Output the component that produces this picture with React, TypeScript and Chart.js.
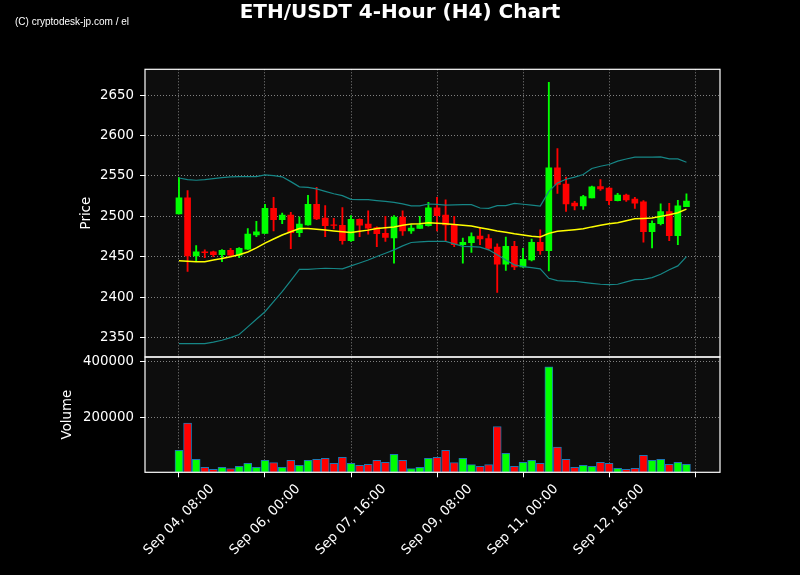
import React, { useEffect, useRef } from 'react';
import { Chart, registerables } from 'chart.js';

Chart.register(...registerables);

const TITLE = 'ETH/USDT 4-Hour (H4) Chart';
const WATERMARK = '(C) cryptodesk-jp.com / el';
const PRICE_LABEL = 'Price';
const VOLUME_LABEL = 'Volume';

const xTickValues = [0, 10, 20, 30, 40, 50, 60];
const xTickLabels = ['Sep 04, 08:00', 'Sep 06, 00:00', 'Sep 07, 16:00', 'Sep 09, 08:00', 'Sep 11, 00:00', 'Sep 12, 16:00', ''];
const priceTicks = [2350, 2400, 2450, 2500, 2550, 2600, 2650];
const volumeTicks = [200000, 400000];

const opens = [
  2503, 2523, 2451, 2456, 2456, 2452.5, 2458, 2452, 2459.5, 2477,
  2479, 2510, 2496, 2501.5, 2480, 2489.5, 2515, 2498, 2489.5, 2489,
  2470, 2496.5, 2490.5, 2486, 2479, 2473.5, 2499, 2482, 2485, 2488.5,
  2510.5, 2501.5, 2489.5, 2465, 2467.5, 2475.5, 2472.5, 2462, 2441, 2463,
  2437.5, 2446, 2468, 2457.5, 2560, 2540, 2516.5, 2513, 2523, 2537,
  2535, 2519.5, 2526.5, 2521.5, 2518, 2481, 2491, 2506, 2476, 2512,
];
const highs = [
  2548, 2532, 2464, 2458.5, 2457, 2459, 2460.5, 2461.5, 2485, 2494,
  2515, 2523.5, 2504, 2505, 2499.5, 2526, 2536, 2513.5, 2497.5, 2511,
  2501, 2497, 2507, 2487, 2500, 2501, 2507, 2489.5, 2500, 2517.5,
  2523.5, 2520.5, 2500, 2473, 2479.5, 2485.5, 2477.5, 2466, 2474.5, 2469,
  2460.5, 2472, 2483.5, 2666, 2584, 2548.5, 2518.5, 2526, 2537.5, 2545.5,
  2535.5, 2528.5, 2527.5, 2523.5, 2519.5, 2494.5, 2515.5, 2516, 2520, 2528,
];
const lows = [
  2503, 2432, 2444, 2449, 2450, 2444, 2451, 2449, 2459, 2475,
  2479, 2482, 2491, 2460, 2475, 2489, 2496, 2475, 2484.5, 2465.5,
  2469, 2475, 2478, 2462.5, 2469, 2442, 2476.5, 2479, 2485, 2488,
  2482, 2470, 2462.5, 2442, 2455.5, 2465, 2458.5, 2406, 2433, 2434,
  2437, 2445, 2453, 2432.5, 2528.5, 2506, 2508, 2508.5, 2523, 2532,
  2514.5, 2519, 2518.5, 2510, 2468, 2461, 2489.5, 2470, 2465, 2512,
];
const closes = [
  2523, 2451, 2456, 2455, 2452.5, 2458, 2452, 2460.5, 2478, 2481,
  2510, 2496, 2501.5, 2480, 2490.5, 2515, 2497, 2488.5, 2488.8, 2470,
  2496.5, 2489, 2485.5, 2478.5, 2474, 2499, 2482, 2485.5, 2489.5, 2510.5,
  2501, 2489.5, 2465, 2468, 2475, 2472, 2460.5, 2441, 2463, 2437.5,
  2447, 2468, 2457.5, 2560, 2539.5, 2515.5, 2513, 2524.5, 2536.5, 2534,
  2519.5, 2526.5, 2520.5, 2516.5, 2481, 2491.5, 2506, 2476, 2513, 2519,
];
const volumes = [
  80000, 178000, 47300, 18200, 10900, 18200, 13300, 21800, 32700, 18200,
  43600, 35100, 18200, 43600, 25500, 43600, 47300, 50900, 32700, 54500,
  32700, 25500, 29100, 43600, 36400, 65500, 43600, 13300, 18200, 50900,
  54500, 80000, 35100, 50900, 27900, 21800, 27900, 166000, 69100, 21800,
  36400, 43600, 32700, 381800, 90900, 47300, 18200, 25500, 21800, 36400,
  32700, 14500, 10900, 14500, 61800, 43600, 47300, 29100, 36400, 29100,
];
const sma = [
  2445, 2444.5, 2444, 2444, 2446, 2448, 2450, 2452.5, 2456, 2461,
  2467, 2472, 2477, 2481, 2485, 2485, 2484, 2483, 2482, 2481,
  2480, 2481.5, 2483, 2485, 2486, 2487, 2489, 2490.5, 2491, 2492,
  2491.5, 2491, 2490, 2489, 2488, 2486, 2484, 2482, 2480.5, 2478.5,
  2477, 2475.5, 2474.5, 2479, 2481.5, 2482.5, 2483.5, 2484.7, 2487, 2489,
  2491, 2492, 2494.5, 2497, 2497.5, 2498, 2500, 2502, 2504.5, 2509,
];
const upperBand = [
  2547.5, 2545.5, 2544.7, 2545.5, 2546.8, 2548, 2549, 2549.3, 2549.3, 2549.3,
  2551.4, 2550.5, 2549, 2543, 2536.5, 2536, 2534, 2531, 2528, 2525.7,
  2521, 2520.8, 2520.7, 2519.5, 2518.5, 2517.4, 2515.5, 2513, 2513, 2515.3,
  2514.8, 2514, 2514.2, 2514.5, 2514.5, 2510.4, 2510, 2513.3, 2513.3, 2516,
  2515, 2514, 2512.8, 2531, 2541.4, 2546, 2548.5, 2551.8, 2559.3, 2562,
  2564.2, 2568.3, 2571, 2573.3, 2573.3, 2573.3, 2573.7, 2571.2, 2571.2, 2567,
];
const lowerBand = [
  2342.6, 2342.6, 2342.6, 2342.6, 2344.5, 2346.7, 2350, 2353.8, 2363.3, 2372.8,
  2382, 2394.4, 2406.8, 2420.5, 2434.5, 2434.5, 2435.2, 2435.8, 2435.5, 2435,
  2438.7, 2442.3, 2446, 2450.3, 2454.4, 2458.6, 2463.5, 2467.7, 2468.5, 2469,
  2469, 2469, 2466, 2463, 2462.7, 2462, 2458.6, 2452.4, 2446, 2440,
  2437.9, 2436.6, 2435, 2423.4, 2420.5, 2420, 2419.7, 2418.4, 2417.2, 2416,
  2415.5, 2416, 2419, 2421.7, 2422, 2424.2, 2428.3, 2434, 2438.7, 2450.3,
];

const UP = '#00ff00';
const DOWN = '#ff0000';
const GRID = 'rgba(165,165,165,0.85)';
const FONT = '"DejaVu Sans", sans-serif';

const panelPlugin = {
  id: 'panels',
  beforeDraw(chart: any) {
    const { ctx, width, height, chartArea } = chart;
    ctx.save();
    ctx.fillStyle = '#000';
    ctx.fillRect(0, 0, width, height);
    ctx.fillStyle = '#0d0d0d';
    ctx.fillRect(chartArea.left, chartArea.top, chartArea.right - chartArea.left, chartArea.bottom - chartArea.top);
    ctx.restore();
  },
  afterDraw(chart: any) {
    const { ctx, chartArea, scales } = chart;
    ctx.save();
    ctx.strokeStyle = '#ffffff';
    ctx.lineWidth = 1.2;
    for (const id of ['y', 'yv']) {
      const s = scales[id];
      ctx.strokeRect(chartArea.left, s.top, chartArea.right - chartArea.left, s.bottom - s.top);
    }
    // title
    ctx.fillStyle = '#ffffff';
    ctx.font = 'bold 20px ' + FONT;
    ctx.textAlign = 'center';
    ctx.textBaseline = 'alphabetic';
    ctx.fillText(TITLE, 400, 18);
    // watermark
    ctx.save();
    ctx.font = '11px "Liberation Sans", sans-serif';
    ctx.textAlign = 'left';
    const w = ctx.measureText(WATERMARK).width;
    ctx.translate(15, 25);
    ctx.scale(114 / w, 1);
    ctx.fillText(WATERMARK, 0, 0);
    ctx.restore();
    // x tick labels, rotated 45deg, bbox centered under tick
    const xs = scales.x;
    ctx.font = '13.33px ' + FONT;
    ctx.fillStyle = '#ffffff';
    ctx.textAlign = 'center';
    ctx.textBaseline = 'middle';
    xTickValues.forEach((v, i) => {
      const label = xTickLabels[i];
      if (!label) return;
      const px = xs.getPixelForValue(v);
      const tw = ctx.measureText(label).width;
      const bb = (tw + 15) * Math.SQRT1_2;
      const cy = chartArea.bottom + 9.3 + bb / 2;
      ctx.save();
      ctx.translate(px, cy);
      ctx.rotate(-Math.PI / 4);
      ctx.fillText(label, 0, 0);
      ctx.restore();
    });
    ctx.restore();
  },
};

export default function App() {
  const ref = useRef<HTMLCanvasElement>(null);

  useEffect(() => {
    const canvas = ref.current;
    if (!canvas) return;
    const idx = opens.map((_, i) => i);
    const colors = idx.map((i) => (closes[i] >= opens[i] ? UP : DOWN));

    const chart = new Chart(canvas, {
      type: 'bar',
      data: {
        datasets: [
          {
            type: 'line',
            label: 'SMA',
            data: idx.map((i) => ({ x: i, y: sma[i] })),
            borderColor: '#ffff00',
            borderWidth: 1.5,
            pointRadius: 0,
            tension: 0,
            yAxisID: 'y',
            order: 1,
          } as any,
          {
            type: 'line',
            label: 'Upper',
            data: idx.map((i) => ({ x: i, y: upperBand[i] })),
            borderColor: '#168686',
            borderWidth: 1.2,
            pointRadius: 0,
            tension: 0,
            yAxisID: 'y',
            order: 2,
          } as any,
          {
            type: 'line',
            label: 'Lower',
            data: idx.map((i) => ({ x: i, y: lowerBand[i] })),
            borderColor: '#168686',
            borderWidth: 1.2,
            pointRadius: 0,
            tension: 0,
            yAxisID: 'y',
            order: 2,
          } as any,
          {
            type: 'bar',
            label: 'Body',
            data: idx.map((i) => ({ x: i, y: [opens[i], closes[i]] })),
            backgroundColor: colors,
            barThickness: 6,
            grouped: false,
            yAxisID: 'y',
            order: 3,
          } as any,
          {
            type: 'bar',
            label: 'Wick',
            data: idx.map((i) => ({ x: i, y: [lows[i], highs[i]] })),
            backgroundColor: colors,
            barThickness: 1.2,
            grouped: false,
            yAxisID: 'y',
            order: 4,
          } as any,
          {
            type: 'bar',
            label: 'Volume',
            data: idx.map((i) => ({ x: i, y: volumes[i] })),
            backgroundColor: colors,
            borderColor: '#1f77b4',
            borderWidth: 1,
            borderSkipped: false,
            barThickness: 8,
            grouped: false,
            yAxisID: 'yv',
            order: 5,
          } as any,
        ],
      },
      options: {
        responsive: false,
        animation: false,
        devicePixelRatio: 1,
        layout: { padding: { top: 69.3, right: 80, bottom: 0, left: 0 } },
        plugins: {
          legend: { display: false },
          tooltip: { enabled: false },
          title: { display: false },
        },
        scales: {
          x: {
            type: 'linear',
            min: -3.95,
            max: 62.9,
            offset: false,
            afterBuildTicks: (s: any) => {
              s.ticks = xTickValues.map((v) => ({ value: v }));
            },
            afterFit: (s: any) => {
              s.height = 575 - 472.3;
            },
            ticks: { display: false },
            grid: {
              offset: false,
              color: GRID,
              lineWidth: 0.9,
              tickColor: '#ffffff',
              tickLength: 5,
              tickWidth: 1,
            },
            border: { display: false, dash: [1, 2] },
          },
          yv: {
            type: 'linear',
            position: 'left',
            stack: 'panels',
            stackWeight: 115.3,
            weight: 0,
            min: 0,
            max: 417500,
            afterBuildTicks: (s: any) => {
              s.ticks = volumeTicks.map((v) => ({ value: v }));
            },
            afterFit: (s: any) => {
              s.width = 145;
            },
            ticks: {
              color: '#ffffff',
              font: { size: 13.33, family: FONT },
              padding: 6,
              callback: (v: any) => String(v),
            },
            grid: {
              color: GRID,
              lineWidth: 0.9,
              tickColor: '#ffffff',
              tickLength: 5,
              tickWidth: 1,
            },
            border: { display: false, dash: [1, 2] },
            title: {
              display: true,
              text: VOLUME_LABEL,
              color: '#ffffff',
              font: { size: 13.33, family: FONT },
              padding: { top: 59.5, bottom: 0 },
            },
          },
          y: {
            type: 'linear',
            position: 'left',
            stack: 'panels',
            stackWeight: 287.7,
            weight: 1,
            min: 2326,
            max: 2682,
            afterBuildTicks: (s: any) => {
              s.ticks = priceTicks.map((v) => ({ value: v }));
            },
            afterFit: (s: any) => {
              s.width = 145;
            },
            ticks: {
              color: '#ffffff',
              font: { size: 13.33, family: FONT },
              padding: 6,
              callback: (v: any) => String(v),
            },
            grid: {
              color: GRID,
              lineWidth: 0.9,
              tickColor: '#ffffff',
              tickLength: 5,
              tickWidth: 1,
            },
            border: { display: false, dash: [1, 2] },
            title: {
              display: true,
              text: PRICE_LABEL,
              color: '#ffffff',
              font: { size: 13.33, family: FONT },
              padding: { top: 79, bottom: 0 },
            },
          },
        } as any,
      },
      plugins: [panelPlugin],
    } as any);

    return () => chart.destroy();
  }, []);

  return (
    <div style={{ position: 'fixed', left: 0, top: 0, width: 800, height: 575, background: '#000' }}>
      <canvas ref={ref} width={800} height={575} style={{ display: 'block', width: 800, height: 575 }} />
    </div>
  );
}
